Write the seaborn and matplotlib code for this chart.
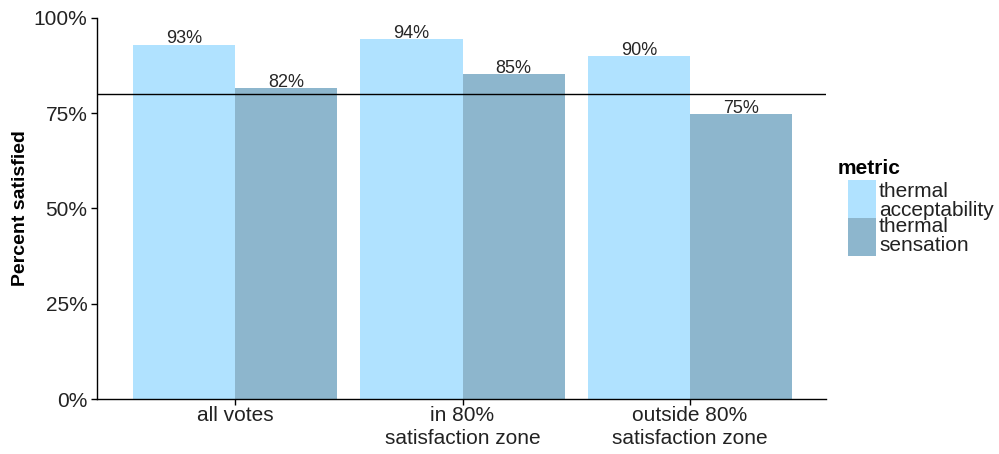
import matplotlib
matplotlib.use("Agg")
import matplotlib.pyplot as plt
import seaborn as sns
import pandas as pd
from matplotlib.patches import Rectangle

categories = ["all votes", "in 80%\nsatisfaction zone", "outside 80%\nsatisfaction zone"]
metrics = ["thermal acceptability", "thermal sensation"]
acceptability = [0.93, 0.945, 0.90]
sensation = [0.816, 0.853, 0.748]
bar_labels_acc = ["93%", "94%", "90%"]
bar_labels_sen = ["82%", "85%", "75%"]
ytick_vals = [0, 0.25, 0.5, 0.75, 1.0]
ytick_labels = ["0%", "25%", "50%", "75%", "100%"]
threshold = 0.80

df = pd.DataFrame({
    "category": categories * 2,
    "metric": [metrics[0]] * 3 + [metrics[1]] * 3,
    "value": acceptability + sensation,
})

sns.set_theme(style="white")
plt.rcParams["font.family"] = ["Liberation Sans", "DejaVu Sans"]

fig = plt.figure(figsize=(9.99, 4.54), dpi=100)
ax = fig.add_axes([0.0971, 0.1211, 0.8268 - 0.0971, 0.9604 - 0.1211])

palette = {metrics[0]: "#B0E2FF", metrics[1]: "#8DB6CD"}
sns.barplot(data=df, x="category", y="value", hue="metric", order=categories,
            hue_order=metrics, palette=palette, width=0.9, linewidth=0,
            saturation=1, ax=ax, legend=False)

for cont, labs in zip(ax.containers, [bar_labels_acc, bar_labels_sen]):
    ax.bar_label(cont, labels=labs, padding=-2, fontsize=13, color="#262626")

ax.axhline(threshold, color="black", linewidth=1.0)

ax.set_xlim(-0.607, 2.598)
ax.set_ylim(0, 1.0)
ax.set_yticks(ytick_vals)
ax.set_yticklabels(ytick_labels)
ax.set_xlabel("")
ax.set_ylabel("Percent satisfied", fontsize=14, fontweight="bold", color="black", labelpad=3)

for s in ["top", "right"]:
    ax.spines[s].set_visible(False)
for s in ["left", "bottom"]:
    ax.spines[s].set_color("black")
    ax.spines[s].set_linewidth(1.0)
ax.tick_params(axis="both", which="both", direction="out", length=4, width=1,
               color="black", labelsize=15, labelcolor="#222222", left=True, bottom=True, pad=3)
ax.tick_params(axis="x", pad=1)
for lab in ax.get_xticklabels():
    lab.set_linespacing(1.3)

# legend
fig.text(838 / 999, 1 - 168 / 454, "metric", fontsize=15, fontweight="bold",
         ha="left", va="center", color="black")
key_x, key_w, key_h = 848 / 999, 28 / 999, 38 / 454
fig.patches.append(Rectangle((key_x, 1 - 218 / 454), key_w, key_h, transform=fig.transFigure,
                             facecolor=palette[metrics[0]], edgecolor="none"))
fig.patches.append(Rectangle((key_x, 1 - 256 / 454), key_w, key_h, transform=fig.transFigure,
                             facecolor=palette[metrics[1]], edgecolor="none"))
fig.text(879 / 999, 1 - 201 / 454, "thermal\nacceptability", fontsize=15, ha="left",
         va="center", linespacing=1.05, color="#222222")
fig.text(879 / 999, 1 - 236 / 454, "thermal\nsensation", fontsize=15, ha="left",
         va="center", linespacing=1.05, color="#222222")

fig.savefig("out.png", dpi=100)
